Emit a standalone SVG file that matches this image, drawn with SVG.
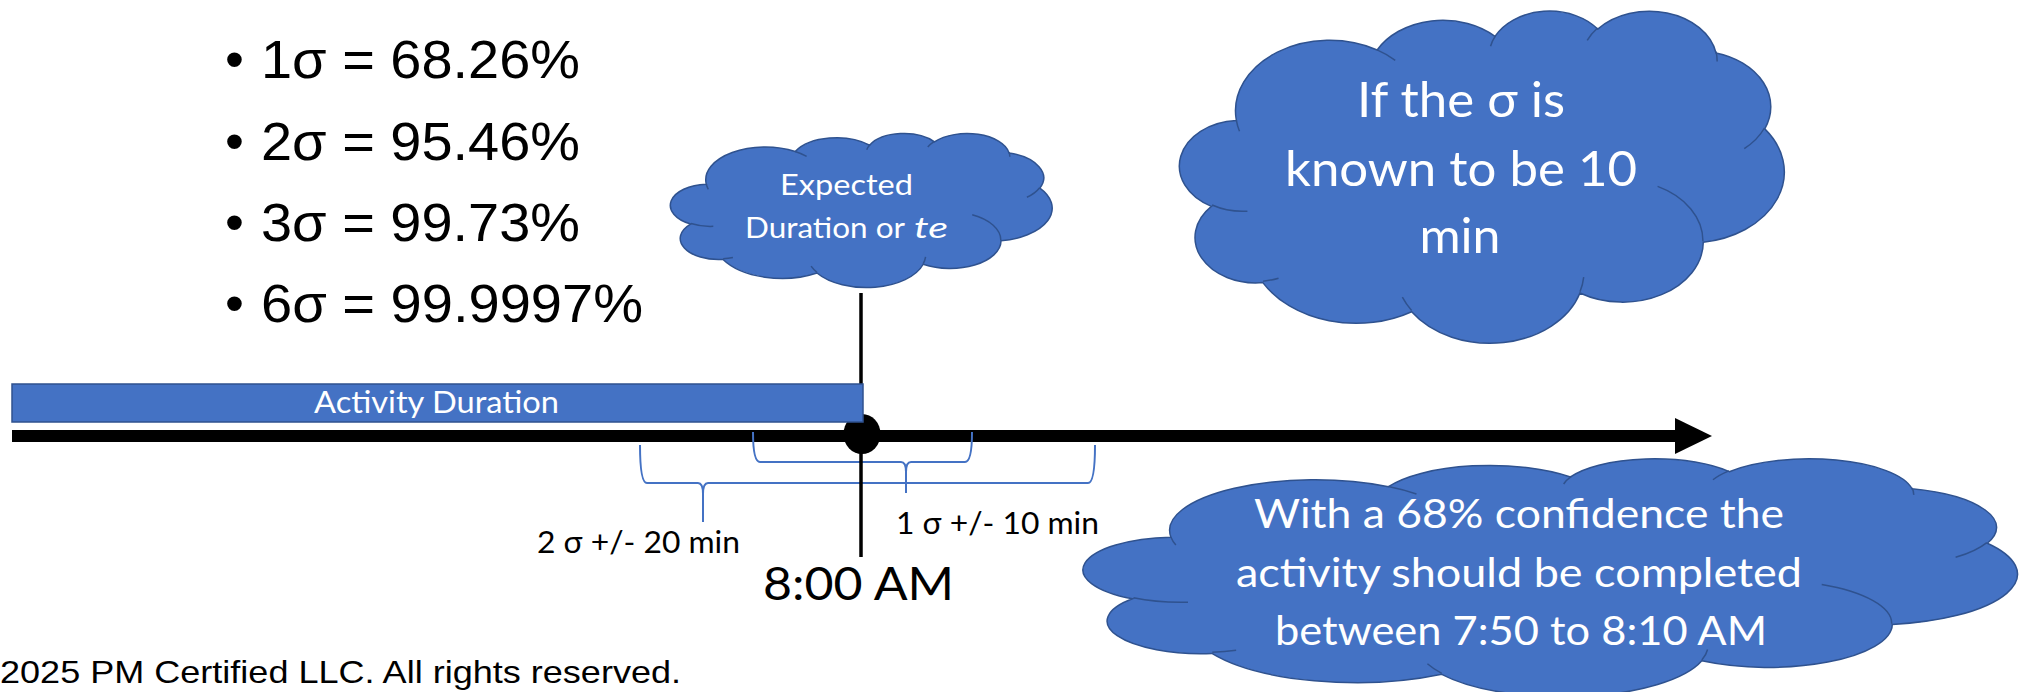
<svg xmlns="http://www.w3.org/2000/svg" width="2021" height="692" viewBox="0 0 2021 692">
<style>
.cloud{fill:#4472C4;stroke:#2F528F;stroke-width:1.5}
.crease{fill:none;stroke:#2F528F;stroke-width:1.5}
.ct{font-family:Lato,"Open Sans",sans-serif;fill:#ffffff;text-anchor:middle}
.lbl{font-family:Lato,"Open Sans",sans-serif;fill:#000000}
.bul{font-family:"Liberation Sans",Arial,sans-serif;font-size:54px;fill:#000000}
.brace{fill:none;stroke:#4472C4;stroke-width:2}
</style>
<defs>
<path id="cloudShape" vector-effect="non-scaling-stroke" d="M3900 14370A6753 9190 0 0 1 14005 5202A5333 7267 0 0 1 22459 3436A4365 5945 0 0 1 29836 2485A4857 6595 0 0 1 38320 5582A5333 7273 0 0 1 41821 15466A6775 9220 0 0 1 37407 30209A5785 7867 0 0 1 28558 36819A6752 9215 0 0 1 16480 39265A7720 10543 0 0 1 5802 35470A4360 5918 0 0 1 2110 25550A4345 5945 0 0 1 3900 14370Z"/>
<path id="cloudCrease" vector-effect="non-scaling-stroke" d="M4693 26177A4345 5945 0 0 1 2159 25380M6928 34899A4360 5918 0 0 1 5819 35281M16478 39090A6752 9215 0 0 1 15813 37355M28827 34751A6752 9215 0 0 1 28560 36661M34129 22954A5785 7867 0 0 1 37381 30090M41798 15354A5333 7273 0 0 1 40349 18031M38324 5426A4857 6595 0 0 1 38400 6689M29078 3952A4857 6595 0 0 1 29821 2339M22141 4720A4365 5945 0 0 1 22501 3329M14000 5192A6753 9190 0 0 1 15304 6545M4127 15789A6753 9190 0 0 1 3900 14370"/>
</defs>

<g id="sigma-list">
<text class="bul" x="225" y="78">•</text><text class="bul" x="261" y="78" textLength="319" lengthAdjust="spacingAndGlyphs">1σ = 68.26%</text>
<text class="bul" x="225" y="160">•</text><text class="bul" x="261" y="160" textLength="319" lengthAdjust="spacingAndGlyphs">2σ = 95.46%</text>
<text class="bul" x="225" y="241">•</text><text class="bul" x="261" y="241" textLength="319" lengthAdjust="spacingAndGlyphs">3σ = 99.73%</text>
<text class="bul" x="225" y="322">•</text><text class="bul" x="261" y="322" textLength="382" lengthAdjust="spacingAndGlyphs">6σ = 99.9997%</text>
</g>

<g id="connectors">
<rect x="12" y="430" width="1664" height="12" fill="#000000"/>
<polygon points="1675,418 1712,436 1675,454" fill="#000000"/>
<path class="brace" d="M640 445Q640 483 647 483L698 483Q703 483 703 494L703 522L703 494Q703 483 708 483L1088 483Q1095 483 1095 445"/>
<path class="brace" d="M753 432Q753 462 760 462L901 462Q906 462 906 472L906 493L906 472Q906 462 911 462L965 462Q972 462 972 432"/>
<line x1="861" y1="293" x2="861" y2="557" stroke="#000000" stroke-width="3.5"/>
</g>

<g id="expected-cloud">
<g transform="translate(672 133) scale(0.0087963 0.0035648)">
<use href="#cloudShape" class="cloud"/>
<use href="#cloudCrease" class="crease"/>
</g>
<text class="ct" x="846.5" y="195" font-size="28" textLength="133" lengthAdjust="spacingAndGlyphs">Expected</text>
<text class="ct" x="745" y="238" font-size="28" style="text-anchor:start" textLength="160" lengthAdjust="spacingAndGlyphs">Duration or</text>
<text class="ct" x="914" y="238" font-size="28" font-style="italic" style="text-anchor:start" textLength="34" lengthAdjust="spacingAndGlyphs">te</text>
</g>

<g id="sigma-cloud">
<g transform="translate(1182 10) scale(0.0139352 0.0076852)">
<use href="#cloudShape" class="cloud"/>
<use href="#cloudCrease" class="crease"/>
</g>
<text class="ct" x="1461" y="117" font-size="49" textLength="208" lengthAdjust="spacingAndGlyphs">If the σ is</text>
<text class="ct" x="1461" y="186" font-size="49" textLength="352" lengthAdjust="spacingAndGlyphs">known to be 10</text>
<text class="ct" x="1460" y="253" font-size="49" textLength="81" lengthAdjust="spacingAndGlyphs">min</text>
</g>

<g id="confidence-cloud">
<g transform="translate(1087 458) scale(0.0215278 0.0055093)">
<use href="#cloudShape" class="cloud"/>
<use href="#cloudCrease" class="crease"/>
</g>
<text class="ct" x="1519" y="528" font-size="40" textLength="530" lengthAdjust="spacingAndGlyphs">With a 68% confidence the</text>
<text class="ct" x="1519" y="587" font-size="40" textLength="566" lengthAdjust="spacingAndGlyphs">activity should be completed</text>
<text class="ct" x="1521" y="645" font-size="40" textLength="492" lengthAdjust="spacingAndGlyphs">between 7:50 to 8:10 AM</text>
</g>

<g id="timeline-point">
<ellipse cx="862" cy="434" rx="18.5" ry="20" fill="#000000"/>
</g>

<g id="activity-duration">
<rect x="12" y="384" width="851" height="38" fill="#4472C4" stroke="#2F528F" stroke-width="1.5"/>
<text class="ct" x="436.5" y="413" font-size="30" textLength="245" lengthAdjust="spacingAndGlyphs">Activity Duration</text>
</g>

<g id="labels">
<text class="lbl" x="537" y="553" font-size="30" textLength="203" lengthAdjust="spacingAndGlyphs">2 σ +/- 20 min</text>
<text class="lbl" x="896" y="534" font-size="30" textLength="203" lengthAdjust="spacingAndGlyphs">1 σ +/- 10 min</text>
<text class="lbl" x="763" y="600" font-size="46" textLength="191" lengthAdjust="spacingAndGlyphs">8:00 AM</text>
<text x="0" y="683" font-family="Liberation Sans, Arial, sans-serif" font-size="32" fill="#000000" textLength="681" lengthAdjust="spacingAndGlyphs">2025 PM Certified LLC. All rights reserved.</text>
</g>
</svg>
